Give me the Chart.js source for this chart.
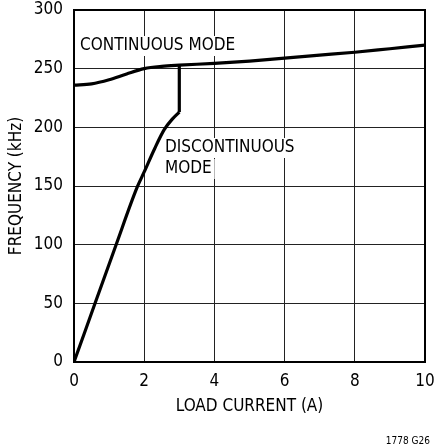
<!DOCTYPE html>
<html>
<head>
<meta charset="utf-8">
<script src="https://cdn.jsdelivr.net/npm/chart.js@4"></script>
<style>
  html, body { margin:0; padding:0; background:#fff; }
  #wrap { width:435px; height:448px; position:relative; }
</style>
</head>
<body>
<div id="wrap"><canvas id="chart" width="435" height="448"></canvas></div>
<script>
// ===== FREQUENCY vs LOAD CURRENT =====

const X_TICKS = [0, 2, 4, 6, 8, 10];
const Y_TICKS = [0, 50, 100, 150, 200, 250, 300];

// continuous mode curve
const CONT_X = [0, 0.5, 1, 1.5, 2, 2.5, 3, 4, 5, 6, 7, 8, 9, 10];
const CONT_Y = [236, 237, 240.5, 245.5, 250, 252, 253, 254.5, 256.5, 259, 261.5, 264, 267, 270];

// discontinuous mode curve
const DISC_X = [0, 0.6, 1.2, 1.8, 2, 2.3, 2.57, 2.8, 3];
const DISC_Y = [0, 50, 100, 149, 162, 182, 198, 207, 213];

// vertical jump to the continuous curve at 3A
const JUMP_X = [3, 3];
const JUMP_Y = [213, 253];

const FONT = '"DejaVu Sans Condensed", "Liberation Sans Narrow", sans-serif';

const toPts = (xs, ys) => xs.map((x, i) => ({ x, y: ys[i] }));

// text notes with white knock-out behind them
const NOTES = [
  { lines:['CONTINUOUS MODE'], x:80, y:46 },
  { lines:['DISCONTINUOUS', 'MODE'], x:165, y:148 },
];

const notesPlugin = {
  id: 'notes',
  afterDatasetsDraw(chart) {
    const ctx = chart.ctx;
    ctx.save();
    ctx.font = '17px ' + FONT;
    ctx.textBaseline = 'middle';
    ctx.textAlign = 'left';
    NOTES.forEach(n => {
      n.lines.forEach((t, i) => {
        const w = ctx.measureText(t).width;
        const yy = n.y + i * 21;
        ctx.fillStyle = '#fff';
        ctx.fillRect(n.x - 3, yy - 10, w + 6, 20);
        ctx.fillStyle = '#000';
        ctx.fillText(t, n.x, yy);
      });
    });
    // frame
    const a = chart.chartArea;
    ctx.strokeStyle = '#000';
    ctx.lineWidth = 2;
    ctx.strokeRect(a.left, a.top, a.right - a.left, a.bottom - a.top);
    // figure id
    ctx.font = '10px ' + FONT;
    ctx.textAlign = 'right';
    ctx.fillStyle = '#000';
    ctx.fillText('1778 G26', 430, 441);
    ctx.restore();
  }
};

const lineStyle = { borderColor:'#000', borderWidth:3.2, pointRadius:0, fill:false };

new Chart(document.getElementById('chart'), {
  type: 'line',
  data: {
    datasets: [
      { ...lineStyle, data: toPts(CONT_X, CONT_Y), cubicInterpolationMode:'monotone' },
      { ...lineStyle, data: toPts(DISC_X, DISC_Y), cubicInterpolationMode:'monotone' },
      { ...lineStyle, data: toPts(JUMP_X, JUMP_Y), tension:0, borderCapStyle:'butt' },
    ]
  },
  options: {
    responsive:false, animation:false,
    layout:{ padding:{ top:10, right:10, left:0, bottom:0 } },
    plugins:{ legend:{ display:false }, tooltip:{ enabled:false } },
    scales:{
      x:{
        type:'linear', min:0, max:10,
        afterBuildTicks: s => { s.ticks = X_TICKS.map(v => ({ value:v })); },
        afterFit: s => { s.height = 86; s.paddingLeft = 0; s.paddingRight = 0; },
        grid:{ color:'#222', lineWidth:1, drawTicks:false },
        border:{ display:false },
        ticks:{ color:'#000', padding:9, maxRotation:0, font:{ family:FONT, size:17 } },
        title:{ display:true, text:'LOAD CURRENT (A)', color:'#000', padding:{ top:0, bottom:31 }, font:{ family:FONT, size:17 } }
      },
      y:{
        type:'linear', min:0, max:300,
        afterBuildTicks: s => { s.ticks = Y_TICKS.map(v => ({ value:v })); },
        afterFit: s => { s.width = 74; s.paddingTop = 0; s.paddingBottom = 0; },
        grid:{ color:'#222', lineWidth:1, drawTicks:false },
        border:{ display:false },
        ticks:{ color:'#000', padding:11, font:{ family:FONT, size:17 } },
        title:{ display:true, text:'FREQUENCY (kHz)', color:'#000', padding:{ top:6, bottom:0 }, font:{ family:FONT, size:17 } }
      }
    }
  },
  plugins:[notesPlugin]
});
</script>
</body>
</html>
